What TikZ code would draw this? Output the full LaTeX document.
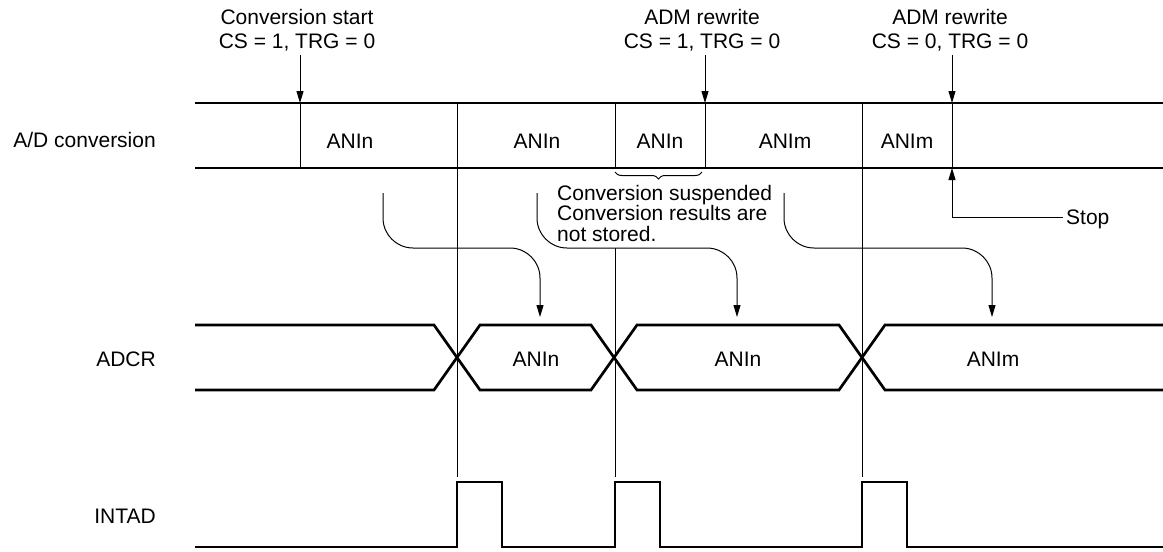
\documentclass[tikz,border=0pt]{standalone}
\usepackage{fontspec}
\setmainfont{Liberation Sans}
\usetikzlibrary{arrows.meta,decorations.pathreplacing}
\begin{document}
\begin{tikzpicture}[x=1pt,y=-1pt,
  bus/.style={line width=2.7pt},
  thinline/.style={line width=1pt},
  arr/.style={thinline,-{Triangle[length=12pt,width=7pt]}},
  lbl/.style={font=\fontsize{21}{24}\selectfont, inner sep=0pt, anchor=base},
  rowlbl/.style={lbl, anchor=base east},
  curve/.style={arr, rounded corners=30pt},
]
\useasboundingbox (0,0) rectangle (1163,552);

% ---- row labels
\node[rowlbl] (lad) at (156,147) {A/D conversion};
\node[rowlbl] (ladcr) at (156,366) {ADCR};
\node[rowlbl] (lint) at (156,523) {INTAD};

% ---- top annotations
\node[lbl] (s1a) at (297,24.5) {Conversion start};
\node[lbl] (s1b) at (297,48) {CS = 1, TRG = 0};
\node[lbl] (s2a) at (702,24.5) {ADM rewrite};
\node[lbl] (s2b) at (702,48) {CS = 1, TRG = 0};
\node[lbl] (s3a) at (950,24.5) {ADM rewrite};
\node[lbl] (s3b) at (950,48) {CS = 0, TRG = 0};

\coordinate (a1) at (300,55);  \coordinate (b1) at (300,103);
\coordinate (a2) at (705,55);  \coordinate (b2) at (705,103);
\coordinate (a3) at (952,55);  \coordinate (b3) at (952,103);
\draw[arr] (a1) -- (b1);
\draw[arr] (a2) -- (b2);
\draw[arr] (a3) -- (b3);

% ---- A/D conversion row
\draw[bus] (195,103) -- (1163,103);
\draw[bus] (195,168) -- (1163,168);
\draw[thinline] (300,103) -- (300,168);
\draw[thinline] (457,103) -- (457,477);
\draw[thinline] (615,103) -- (615,168);
\draw[thinline] (615,248) -- (615,477);
\draw[thinline] (705,103) -- (705,168);
\draw[thinline] (862,103) -- (862,477);
\draw[thinline] (952,103) -- (952,168);

\node[lbl] (c1) at (350,148) {ANIn};
\node[lbl] (c2) at (537,148) {ANIn};
\node[lbl] (c3) at (660,148) {ANIn};
\node[lbl] (c4) at (785,148) {ANIm};
\node[lbl] (c5) at (907,148) {ANIm};

% brace + note
\draw[thinline, decorate, decoration={brace, mirror, amplitude=7pt}] (615,172) -- (702,172);
\node[lbl, anchor=base west] (n1) at (557,200) {Conversion suspended};
\node[lbl, anchor=base west] (n2) at (557,220.5) {Conversion results are};
\node[lbl, anchor=base west] (n3) at (557,241) {not stored.};

% stop
\node[lbl, anchor=base west] (stop) at (1066,224) {Stop};
\coordinate (st0) at (1063,217);
\coordinate (st1) at (952,217);
\coordinate (st2) at (952,168);
\draw[arr] (st0) -- (st1) -- (st2);

% ---- transfer arrows
\draw[curve] (383,193) -- (383,248) -- (540,248) -- (540,317);
\draw[curve] (537,193) -- (537,248) -- (737,248) -- (737,317);
\draw[curve] (784,193) -- (784,248) -- (992,248) -- (992,317);

% ---- ADCR row
\draw[bus, line join=miter] (195,325) -- (434,325) -- (480,390) -- (591,390) -- (637,325) -- (839,325) -- (885,390) -- (1163,390);
\draw[bus, line join=miter] (195,390) -- (434,390) -- (480,325) -- (591,325) -- (637,390) -- (839,390) -- (885,325) -- (1163,325);
\node[lbl] (d1) at (536,366) {ANIn};
\node[lbl] (d2) at (738,366) {ANIn};
\node[lbl] (d3) at (993,366) {ANIm};

% ---- INTAD row
\draw[bus, line join=miter] (195,547) -- (457,547) -- (457,482) -- (502,482) -- (502,547) -- (615,547) -- (615,482) -- (660,482) -- (660,547) -- (862,547) -- (862,482) -- (907,482) -- (907,547) -- (1163,547);
\end{tikzpicture}
\end{document}
